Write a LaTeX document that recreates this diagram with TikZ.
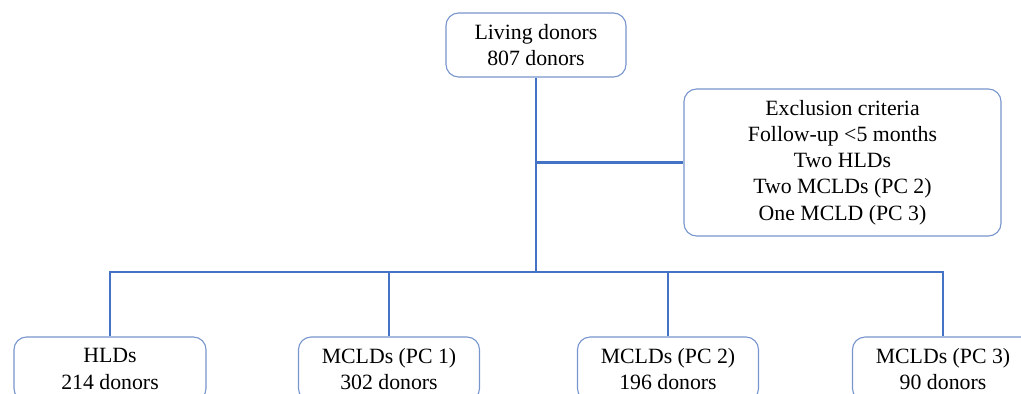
\documentclass[tikz,border=0pt]{standalone}
\usepackage{fontspec}
\setmainfont{Liberation Serif}
\usepackage{tikz}
\usepackage{xcolor}
\usetikzlibrary{positioning}

\definecolor{linkblue}{RGB}{68,114,196}
\definecolor{boxblue}{RGB}{120,150,205}

\begin{document}
\begin{tikzpicture}[x=0.025cm,y=-0.025cm]
\tikzstyle{every node}+=[inner sep=0pt]
\tikzstyle{donorbox}=[draw=boxblue, line width=0.8pt, rounded corners=9pt, fill=white, align=center, font=\fontsize{15.5}{18.6}\selectfont]
\tikzstyle{link}=[draw=linkblue, line width=2pt]
\useasboundingbox (0,0) rectangle (1021,394);
% boxes
\node [donorbox, minimum width=4.5cm, minimum height=1.6cm] (living) at (536,45) {Living donors\\807 donors};
\node [donorbox, minimum width=7.925cm, minimum height=3.675cm] (excl) at (842.5,162.5) {Exclusion criteria\\Follow-up <5 months\\Two HLDs\\Two MCLDs (PC 2)\\One MCLD (PC 3)};
\node [donorbox, minimum width=4.8cm, minimum height=1.6cm] (hld) at (110,369) {HLDs\\214 donors};
\node [donorbox, minimum width=4.525cm, minimum height=1.6cm] (pcone) at (389,369) {MCLDs (PC 1)\\302 donors};
\node [donorbox, minimum width=4.525cm, minimum height=1.6cm] (pctwo) at (668,369) {MCLDs (PC 2)\\196 donors};
\node [donorbox, minimum width=4.525cm, minimum height=1.6cm] (pcthree) at (943,369) {MCLDs (PC 3)\\90 donors};
\coordinate (bus) at (536,272);
% connectors
\draw [link] (living.south) -- (bus);
\draw [link] (living.south |- excl.west) -- (excl.west);
\draw [link] (hld.north) -- (hld |- bus) -- (pcthree |- bus) -- (pcthree.north);
\draw [link] (pcone |- bus) -- (pcone.north);
\draw [link] (pctwo |- bus) -- (pctwo.north);
\end{tikzpicture}
\end{document}
